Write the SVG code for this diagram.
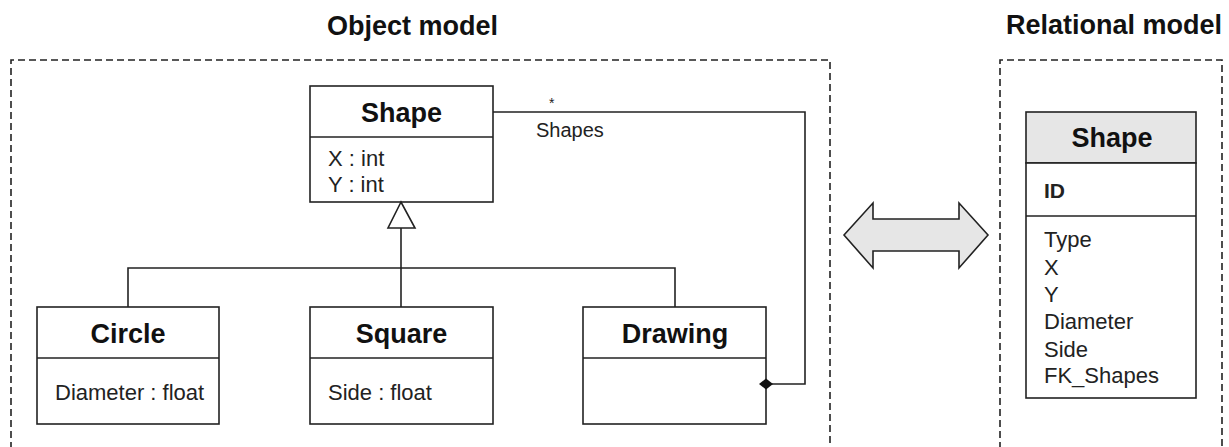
<svg xmlns="http://www.w3.org/2000/svg" width="1229" height="447" viewBox="0 0 1229 447">
<defs>
<style>
.frame{fill:none;stroke:#222;stroke-width:1.6;stroke-dasharray:7 4}
.box{fill:#fff;stroke:#222;stroke-width:1.6}
.line{fill:none;stroke:#222;stroke-width:1.6}
.title{font-family:"Liberation Sans",Arial,sans-serif;font-weight:bold;font-size:27px;fill:#111}
.cname{font-family:"Liberation Sans",Arial,sans-serif;font-weight:bold;font-size:27px;fill:#111;text-anchor:middle}
.attr{font-family:"Liberation Sans",Arial,sans-serif;font-size:22px;fill:#222}
.lbl{font-family:"Liberation Sans",Arial,sans-serif;font-size:20px;fill:#222}
</style>
</defs>
<rect width="1229" height="447" fill="#fff"/>
<g id="titles">
<text class="title" x="327" y="35">Object model</text>
<text class="title" x="1006" y="34">Relational model</text>
</g>
<g id="frames">
<path class="frame" d="M11,460 L11,60 L830,60 L830,460"/>
<path class="frame" d="M1000,460 L1000,60 L1222,60 L1222,460"/>
</g>
<g id="shape">
<rect class="box" x="310" y="86" width="183" height="116"/>
<line class="line" x1="310" y1="137" x2="493" y2="137"/>
<text class="cname" x="401.5" y="122">Shape</text>
<text class="attr" x="328" y="166">X : int</text>
<text class="attr" x="328" y="192">Y : int</text>
</g>
<g id="circle">
<rect class="box" x="37" y="307" width="182" height="117"/>
<line class="line" x1="37" y1="358" x2="219" y2="358"/>
<text class="cname" x="128" y="343">Circle</text>
<text class="attr" x="55" y="400">Diameter : float</text>
</g>
<g id="square">
<rect class="box" x="310" y="307" width="183" height="117"/>
<line class="line" x1="310" y1="358" x2="493" y2="358"/>
<text class="cname" x="401.5" y="343">Square</text>
<text class="attr" x="328" y="400">Side : float</text>
</g>
<g id="drawing">
<rect class="box" x="583" y="307" width="183" height="117"/>
<line class="line" x1="583" y1="358" x2="766" y2="358"/>
<text class="cname" x="675" y="343">Drawing</text>
</g>
<g id="connectors">
<polyline class="line" points="493,112 805,112 805,384 772,384"/>
<path d="M759,384 L766,378.5 L773,384 L766,389.5 Z" fill="#111"/>
<polygon class="line" points="401,202 388,228 415,228" fill="#fff"/>
<line class="line" x1="401" y1="228" x2="401" y2="307"/>
<polyline class="line" points="128,307 128,268 675,268 675,307"/>
<text class="lbl" x="549" y="108" style="font-size:14px">*</text>
<text class="lbl" x="536" y="137">Shapes</text>
</g>
<g id="arrow">
<polygon points="844,235 873,203 873,219 959,219 959,203 988,235 959,268 959,251 873,251 873,268" fill="#e6e6e6" stroke="#222" stroke-width="1.6" stroke-linejoin="miter"/>
</g>
<g id="table">
<rect x="1026" y="112" width="170" height="51" fill="#e6e6e6" stroke="#222" stroke-width="1.6"/>
<rect class="box" x="1026" y="163" width="170" height="235"/>
<line class="line" x1="1026" y1="216" x2="1196" y2="216"/>
<text class="cname" x="1112" y="147">Shape</text>
<text class="attr" x="1044" y="198" style="font-weight:bold;font-size:21px">ID</text>
<text class="attr" x="1044" y="247">Type</text>
<text class="attr" x="1044" y="275">X</text>
<text class="attr" x="1044" y="302">Y</text>
<text class="attr" x="1044" y="329">Diameter</text>
<text class="attr" x="1044" y="357">Side</text>
<text class="attr" x="1044" y="383">FK_Shapes</text>
</g>
</svg>
